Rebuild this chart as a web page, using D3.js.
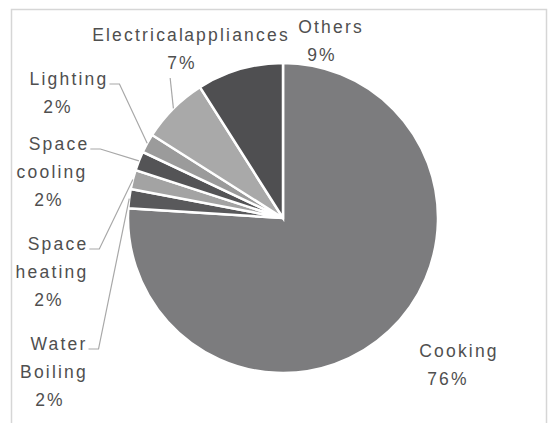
<!DOCTYPE html>
<html>
<head>
<meta charset="utf-8">
<script src="https://cdn.jsdelivr.net/npm/d3@7"></script>
<style>
  html, body { margin: 0; padding: 0; background: #fff; }
  svg { display: block; }
</style>
</head>
<body>
<svg id="chart" width="551" height="423"></svg>
<script>
// Household energy use by end use (share of total, %)
const categories = ["Cooking", "Water Boiling", "Space heating", "Space cooling", "Lighting", "Electrical appliances", "Others"];
const shares = [76, 2, 2, 2, 2, 7, 9];
// wrapped name lines for each data label
const nameLines = [["Cooking"], ["Water", "Boiling"], ["Space", "heating"], ["Space", "cooling"], ["Lighting"], ["Electrical appliances"], ["Others"]];

// styling
const sliceColors = ["#7c7c7e", "#59595b", "#a3a3a3", "#545456", "#9b9b9b", "#a9a9a9", "#4f4f51"];
const textColor = "#4f4f4f";
const leaderColor = "#a8a8a8";

// label placement: centre x and first baseline of each label block, per-line x shifts,
// and how the leader line leaves the label
const labelLayout = [
  { x: 459, y: 357, dx: [0, -11], leader: "none" },
  { x: 59, y: 350, dx: [0, -5, -9], leader: "stub" },
  { x: 58, y: 250, dx: [0, -6, -9], leader: "stub" },
  { x: 59, y: 150, dx: [0, -7, -10], leader: "stub" },
  { x: 69, y: 85, dx: [0, -11], leader: "stub" },
  { x: 191, y: 41, dx: [0, -9], leader: "below" },
  { x: 331, y: 33, dx: [0, -9], leader: "none" }
];

const W = 551, H = 423;
const cx = 283, cy = 218, radius = 155;
const lineHeight = 28;

const svg = d3.select("#chart");

// chart area frame
svg.append("rect")
  .attr("x", 11.5).attr("y", 9.5)
  .attr("width", 535).attr("height", 430)
  .attr("fill", "none")
  .attr("stroke", "#d6d6d6")
  .attr("stroke-width", 1.5);

const data = categories.map((name, i) => ({ name, value: shares[i], i }));

const pie = d3.pie().sort(null).value(d => d.value).startAngle(0).endAngle(2 * Math.PI);
const arcs = pie(data);

const arc = d3.arc().innerRadius(0).outerRadius(radius);
const edgeArc = d3.arc().innerRadius(radius).outerRadius(radius);

const g = svg.append("g").attr("transform", `translate(${cx},${cy})`);

g.selectAll("path.slice")
  .data(arcs)
  .join("path")
  .attr("class", "slice")
  .attr("d", arc)
  .attr("fill", d => sliceColors[d.data.i])
  .attr("stroke", "#ffffff")
  .attr("stroke-width", 2.5)
  .attr("stroke-linejoin", "miter");

// data labels
const labelG = svg.append("g")
  .attr("font-family", "'Liberation Sans', Arial, sans-serif")
  .attr("font-size", "17.5px")
  .attr("letter-spacing", "2.2px")
  .attr("fill", textColor);

const leaderG = svg.append("g")
  .attr("fill", "none")
  .attr("stroke", leaderColor)
  .attr("stroke-width", 1.2);

arcs.forEach(a => {
  const i = a.data.i;
  const lay = labelLayout[i];
  const lines = nameLines[i].concat([`${a.data.value}%`]);
  const nodes = lines.map((txt, k) =>
    labelG.append("text")
      .attr("x", lay.x + (lay.dx[k] || 0))
      .attr("y", lay.y + k * lineHeight)
      .attr("text-anchor", "middle")
      .attr("word-spacing", i === 5 ? "-8px" : null)
      .text(txt)
      .node()
  );

  const [ex, ey] = edgeArc.centroid(a);
  const end = [cx + ex, cy + ey];

  if (lay.leader === "stub") {
    const bb = nodes[0].getBBox();
    const x0 = bb.x + bb.width + 1;
    const yb = lay.y - 1;
    leaderG.append("path")
      .attr("d", d3.line()([[x0, yb], [x0 + 10, yb], end]));
  } else if (lay.leader === "below") {
    const bb = nodes[nodes.length - 1].getBBox();
    const start = [bb.x + 3, lay.y + (lines.length - 1) * lineHeight + 9];
    leaderG.append("path")
      .attr("d", d3.line()([start, end]));
  }
});
</script>
</body>
</html>
